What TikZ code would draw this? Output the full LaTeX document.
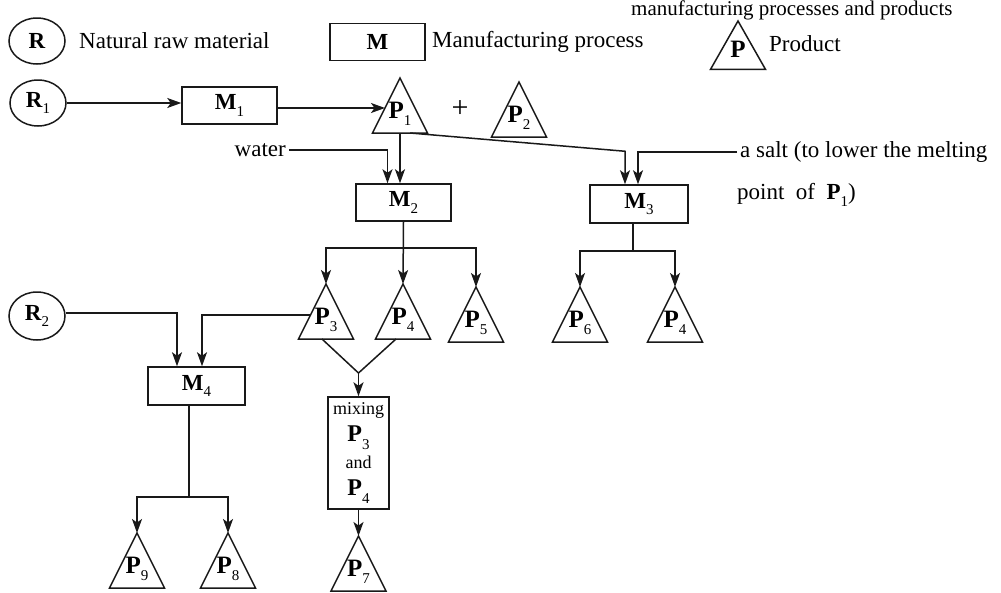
\documentclass[tikz,border=0pt]{standalone}
\usepackage{fontspec}
\setmainfont{Liberation Serif}
\usetikzlibrary{shapes.geometric,arrows.meta,calc}
\newcommand\pl[2]{\textbf{#1}\raisebox{-0.3em}{\fontsize{15}{15}\selectfont #2}}
\tikzset{
  line/.style={line width=1.5pt, draw=black!90},
  arr/.style={line, -{Stealth[length=14pt,width=10pt,inset=3.5pt]}},
  mbox/.style={draw=black!90, line width=1.5pt, rectangle, inner sep=0pt,
    minimum width=95pt, minimum height=37pt, font=\fontsize{23}{24}\selectfont},
  rnode/.style={ellipse, draw=black!90, line width=1.5pt, inner sep=0pt,
    minimum width=56pt, minimum height=46pt, font=\fontsize{23}{24}\selectfont},
  txt/.style={font=\fontsize{23}{26}\selectfont, inner sep=3pt},
  plab/.style={font=\fontsize{25}{26}\selectfont, inner sep=0pt},
  tri/.pic={
    \draw[line] (0,0) -- (-27.5,55) -- (27.5,55) -- cycle;
    \coordinate (-apex) at (0,0);
    \coordinate (-s) at (0,55);
    \coordinate (-w) at (-15,30);
    \node[plab] (-lab) at (0,36) {\pl{P}{#1}};
  }
}
\begin{document}
\begin{tikzpicture}[x=1pt,y=-1pt]
\useasboundingbox (0,0) rectangle (1001,592);

% partial heading line
\node[txt, font=\fontsize{21}{22}\selectfont, anchor=base west] (head) at (628,15) {manufacturing processes and products};

% legend
\node[rnode] (LR) at (37,41) {\textbf{R}};
\node[txt, anchor=west] (LRt) at (76,41) {Natural raw material};
\node[mbox] (LM) at (377.5,42) {\textbf{M}};
\node[txt, anchor=west] (LMt) at (429,42) {Manufacturing process};
\pic[yscale=0.88] (LP) at (738,21) {tri={}};
\node[txt, anchor=west] (LPt) at (766,44) {Product};

% row 1
\node[rnode] (R1) at (38,103) {\pl{R}{1}};
\node[mbox] (M1) at (229.5,105.5) {\pl{M}{1}};
\pic (P1) at (400,78) {tri=1};
\node[txt, font=\fontsize{30}{30}\selectfont] (plus) at (460,109) {+};
\pic (P2) at (519,82) {tri=2};

\draw[arr] (R1.east) -- (R1.east -| M1.west);
\draw[arr] (M1.east |- P1-w) -- (P1-w);

\node[mbox] (M2) at (403.5,202.5) {\pl{M}{2}};
\node[mbox, minimum width=98pt, minimum height=38pt] (M3) at (639,204) {\pl{M}{3}};

\draw[arr] (P1-s) -- (P1-s |- M2.north);
\node[txt, anchor=east] (water) at (289,150) {water};
\draw[arr] (water.east) -| ([xshift=-16pt]M2.north);

\draw[arr] ([xshift=10pt]P1-s) -- ([xshift=-14pt,yshift=33pt]M3.north) -- ([xshift=-14pt]M3.north);
\node[txt, anchor=west] (salt) at (737,152) {a salt (to lower the melting};
\node[txt, anchor=west] (salt2) at (734,195) {point\ \ of\ \ \pl{P}{1})};
\draw[arr] (salt.west) -| ([xshift=-1pt]M3.north);

% row 2
\pic (P3) at (326,284) {tri=3};
\pic (P4) at (403,284) {tri=4};
\pic (P5) at (476,287) {tri=5};
\pic (P6) at (580,287) {tri=6};
\pic (P4b) at (675,287) {tri=4};

\draw[arr] (M2.south) -- ++(0,26) -| (P3-apex);
\draw[arr] (M2.south) -- ++(0,26) -| (P5-apex);
\draw[arr] (M2.south) -- (P4-apex);

\draw[arr] ([xshift=-6pt]M3.south) -- ++(0,27) -| (P6-apex);
\draw[arr] ([xshift=-6pt]M3.south) -- ++(0,27) -| (P4b-apex);

\node[rnode, minimum height=48pt] (R2) at (37,316) {\pl{R}{2}};
\node[mbox, minimum width=97pt, minimum height=38pt] (M4) at (196.5,386) {\pl{M}{4}};

\draw[arr] (R2.east |- 0,313) -| ([xshift=-19.5pt]M4.north);
\draw[arr] (P3-w |- 0,315) -| ([xshift=5.5pt]M4.north);

% mixing
\coordinate (mx) at (358.5,373);
\draw[line] ([xshift=-4pt]P3-s) -- (mx);
\draw[line] ([xshift=-7pt]P4-s) -- (mx);
\node[mbox, minimum width=61pt, minimum height=112pt, align=center,
  font=\fontsize{18}{27}\selectfont] (MX) at (358.5,453)
  {mixing\\ {\fontsize{24}{27}\selectfont\pl{P}{3}}\\ and\\ {\fontsize{24}{27}\selectfont\pl{P}{4}}};
\draw[arr] (mx) -- (MX.north);

\pic (P7) at (358.5,536) {tri=7};
\draw[arr] (MX.south) -- (P7-apex);

% M4 outputs
\pic (P9) at (137,533) {tri=9};
\pic (P8) at (228,533) {tri=8};
\draw[arr] ([xshift=-7.5pt]M4.south) -- ++(0,91) -| (P9-apex);
\draw[arr] ([xshift=-7.5pt]M4.south) -- ++(0,91) -| (P8-apex);
\end{tikzpicture}
\end{document}
